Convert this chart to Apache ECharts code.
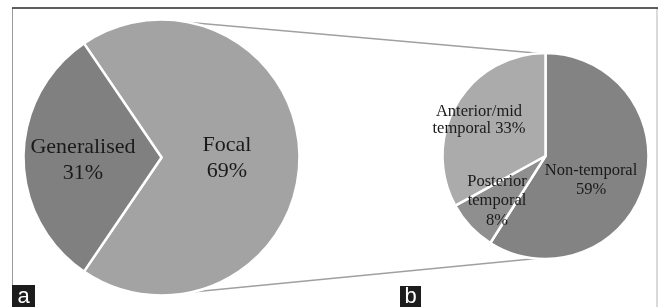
<!DOCTYPE html>
<html>
<head>
<meta charset="utf-8">
<script src="https://cdn.jsdelivr.net/npm/echarts@6/dist/echarts.min.js"></script>
<style>
  html, body { margin: 0; padding: 0; background: #fff; }
  #chart { width: 659px; height: 307px; }
</style>
</head>
<body>
<div id="chart"></div>
<script>
// big pie: seizure type
const typeNames = ['Focal', 'Generalised']
const typeValues = [69, 31]
const typeColors = ['#a3a3a3', '#808080']

// small pie: focal localisation
const focalNames = ['Non-temporal', 'Posterior temporal', 'Anterior/mid temporal']
const focalValues = [59, 8, 33]
const focalColors = ['#838383', '#8f8f8f', '#ababab']

// label texts (line breaks as in the figure)
const typeLabels = ['Focal\n69%', 'Generalised\n31%']
const focalLabels = ['Non-temporal\n59%', 'Posterior\ntemporal\n8%', 'Anterior/mid\ntemporal 33%']

// layout
const bigC = [161.5, 157.5]
const bigR = 138
const smallC = [545.5, 156]
const smallR = 103
const bigLabelPos = [[227, 158], [83, 160]]
const smallLabelPos = [[591, 180], [497, 201], [479, 120]]
const smallLineHeights = [19, 19.5, 17]

const chart = echarts.init(document.getElementById('chart'))

function ptOn (c, r, deg) {
  const a = deg * Math.PI / 180
  return [c[0] + r * Math.cos(a), c[1] - r * Math.sin(a)]
}

const t1 = ptOn(bigC, bigR, 78)
const t2 = ptOn(smallC, smallR, 94)
const b1 = ptOn(bigC, bigR, -77)
const b2 = ptOn(smallC, smallR, -95)

const textStyleBig = { fontFamily: 'Liberation Serif', fontSize: 22, lineHeight: 26, color: '#1a1a1a' }
const textStyleSmall = { fontFamily: 'Liberation Serif', fontSize: 16.5, lineHeight: 18.5, color: '#1a1a1a' }

function makeData (names, values, colors, labels, lineHeights) {
  return names.map((n, i) => {
    const label = { formatter: labels[i] }
    if (lineHeights) label.lineHeight = lineHeights[i]
    return {
      name: n,
      value: values[i],
      itemStyle: { color: colors[i] },
      label
    }
  })
}

const option = {
  animation: false,
  graphic: [
    { type: 'line', shape: { x1: 12.5, y1: 8, x2: 12.5, y2: 307 }, style: { stroke: '#9a9a9a', lineWidth: 1 } },
    { type: 'line', shape: { x1: 657, y1: 8, x2: 657, y2: 307 }, style: { stroke: '#b5b5b5', lineWidth: 1 } },
    { type: 'line', shape: { x1: 12, y1: 8, x2: 658, y2: 8 }, style: { stroke: '#2a2a2a', lineWidth: 1.5 } },
    { type: 'line', z: -1, shape: { x1: t1[0], y1: t1[1], x2: t2[0], y2: t2[1] }, style: { stroke: '#a0a0a0', lineWidth: 1.5 } },
    { type: 'line', z: -1, shape: { x1: b1[0], y1: b1[1], x2: b2[0], y2: b2[1] }, style: { stroke: '#a0a0a0', lineWidth: 1.5 } },
    {
      type: 'group', left: 12, top: 285,
      children: [
        { type: 'rect', shape: { x: 0, y: 0, width: 23, height: 23 }, style: { fill: '#1c1c1c' } },
        { type: 'text', x: 11.5, y: 12, style: { text: 'a', fill: '#fff', font: '22px "Liberation Sans"', align: 'center', verticalAlign: 'middle' } }
      ]
    },
    {
      type: 'group', left: 400, top: 286,
      children: [
        { type: 'rect', shape: { x: 0, y: 0, width: 21, height: 22 }, style: { fill: '#1c1c1c' } },
        { type: 'text', x: 10.5, y: 11, style: { text: 'b', fill: '#fff', font: '22px "Liberation Sans"', align: 'center', verticalAlign: 'middle' } }
      ]
    }
  ],
  series: [
    {
      type: 'pie',
      center: bigC,
      radius: bigR,
      startAngle: 90 + 34.2,
      clockwise: true,
      silent: true,
      itemStyle: { borderColor: '#fff', borderWidth: 2.5 },
      label: Object.assign({ show: true, position: 'inside', align: 'center' }, textStyleBig),
      labelLine: { show: false },
      labelLayout: p => ({ x: bigLabelPos[p.dataIndex][0], y: bigLabelPos[p.dataIndex][1], align: 'center', verticalAlign: 'middle' }),
      data: makeData(typeNames, typeValues, typeColors, typeLabels)
    },
    {
      type: 'pie',
      center: smallC,
      radius: smallR,
      startAngle: 90,
      clockwise: true,
      silent: true,
      itemStyle: { borderColor: '#fff', borderWidth: 2.5 },
      label: Object.assign({ show: true, position: 'inside', align: 'center' }, textStyleSmall),
      labelLine: { show: false },
      labelLayout: p => ({ x: smallLabelPos[p.dataIndex][0], y: smallLabelPos[p.dataIndex][1], align: 'center', verticalAlign: 'middle' }),
      data: makeData(focalNames, focalValues, focalColors, focalLabels, smallLineHeights)
    }
  ]
}

chart.setOption(option)
</script>
</body>
</html>
